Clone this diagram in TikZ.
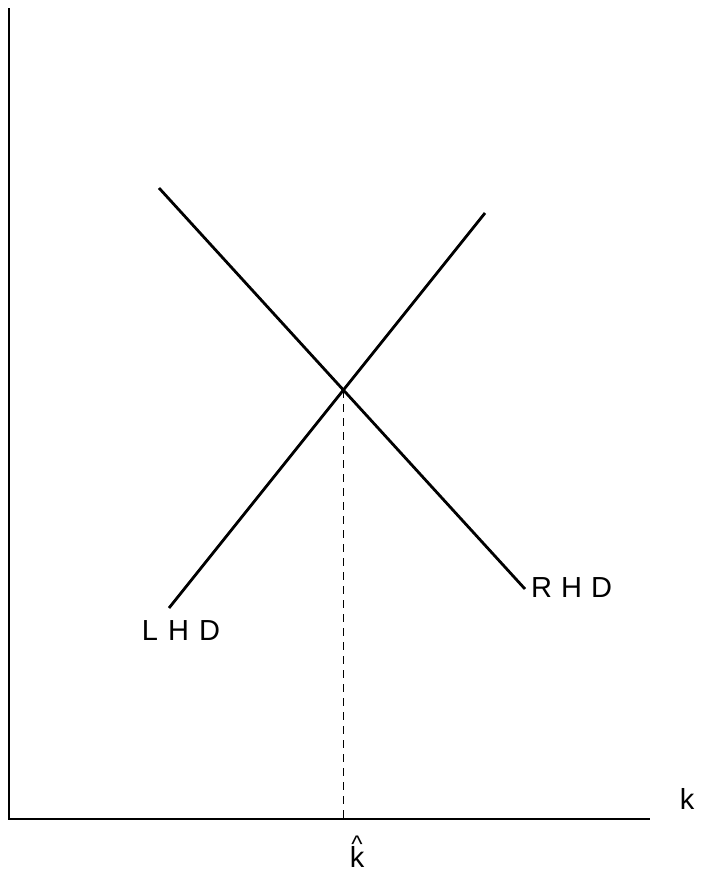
\documentclass[tikz,border=0pt]{standalone}
\usepackage{fontspec}
\setmainfont{Liberation Sans}
\tikzset{
  axisline/.style={draw, line width=2.8pt},
  curveline/.style={draw, line width=2.8pt},
  guideline/.style={draw, line width=1.4pt, dash pattern=on 8pt off 6pt},
  curvelabel/.style={font=\fontsize{29}{31}\selectfont, inner sep=0pt}
}

\begin{document}
\begin{tikzpicture}[x=1pt, y=-1pt]
  \useasboundingbox (0,0) rectangle (702,878);
  % axes
  \coordinate (top) at (9,8);
  \coordinate (origin) at (9,819);
  \coordinate (right) at (650,819);
  \draw[axisline] (top) -- (origin) -- (right);
  \node[curvelabel] (klabel) at (687,799) {k};
  % the two curves
  \coordinate (lhdlow) at (169,608);
  \coordinate (lhdhigh) at (485,213);
  \coordinate (rhdhigh) at (159,188);
  \coordinate (rhdlow) at (525,589);
  \draw[curveline] (lhdlow) -- (lhdhigh);
  \draw[curveline] (rhdhigh) -- (rhdlow);
  \node[curvelabel] (lhd) at (181,631) {L\hspace{10pt}H\hspace{10pt}D};
  \node[curvelabel, anchor=west] (rhd) at (531,588) {R\hspace{9pt}H\hspace{9pt}D};
  % crossing point and k hat
  \coordinate (cross) at (intersection of lhdlow--lhdhigh and rhdhigh--rhdlow);
  \draw[guideline] (cross) -- (cross |- origin);
  \node[curvelabel, anchor=base] (khat) at (357,867)
    {\ooalign{\hfil\raisebox{15pt}{\fontsize{24}{26}\selectfont\^{}}\hfil\cr k\cr}};
\end{tikzpicture}
\end{document}
